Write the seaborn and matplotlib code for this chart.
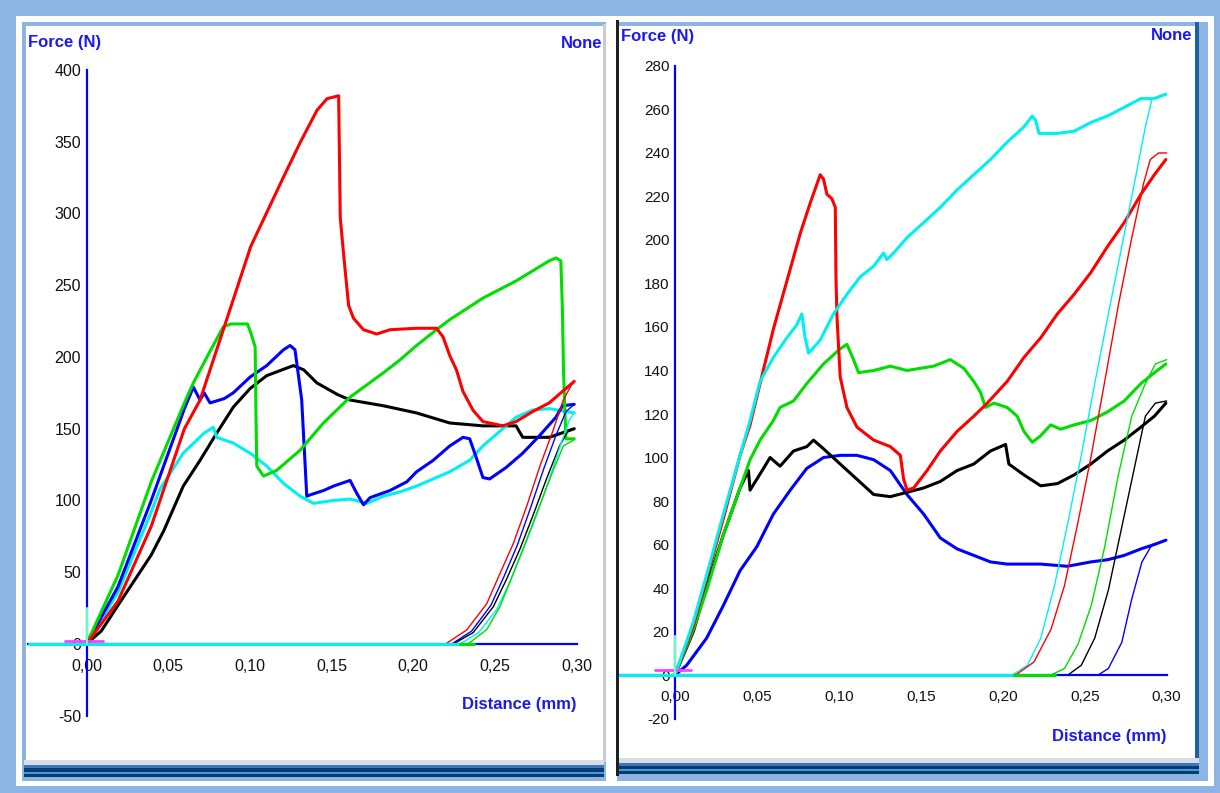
import matplotlib
matplotlib.use("Agg")
import matplotlib.pyplot as plt
import seaborn as sns
from matplotlib.patches import Rectangle

sns.set_style("white")
plt.rcParams["font.family"] = ["Liberation Sans", "DejaVu Sans"]

# ---------------- data: left panel ----------------
left_xticks = [0.00, 0.05, 0.10, 0.15, 0.20, 0.25, 0.30]
left_xticklabels = ["0,00", "0,05", "0,10", "0,15", "0,20", "0,25", "0,30"]
left_yticks = [-50, 0, 50, 100, 150, 200, 250, 300, 350, 400]
left_yticklabels = ["-50", "0", "50", "100", "150", "200", "250", "300", "350", "400"]

L_red_x = [0.0, 0.0193, 0.0396, 0.0599, 0.0695, 0.0843, 0.0898, 0.1005, 0.1208, 0.131, 0.1411, 0.1472,
           0.1543, 0.1553, 0.1573, 0.1604, 0.1634, 0.1695, 0.1776, 0.1858, 0.202, 0.2142, 0.2182,
           0.2223, 0.2264, 0.2304, 0.2365, 0.2426, 0.2548, 0.2629, 0.2731, 0.2832, 0.2913, 0.2985]
L_red_y = [0, 30, 82, 150, 170, 221, 240, 277, 326, 350, 372, 380,
           382, 297, 272, 236, 227, 219, 216, 219, 220, 220, 214,
           201, 191, 176, 163, 155, 152, 155, 162, 168, 176, 183]
L_red_ux = [0.2204, 0.2327, 0.2449, 0.253, 0.2612, 0.2694, 0.2775, 0.2856, 0.2918, 0.298]
L_red_uy = [0.5, 9.8, 28, 49, 70, 96, 124, 149, 170, 183]

L_green_x = [0.0, 0.0193, 0.0396, 0.0599, 0.0654, 0.0756, 0.0837, 0.0883, 0.0985, 0.1005, 0.1032,
             0.1037, 0.1042, 0.1083, 0.1164, 0.1307, 0.145, 0.1613, 0.1817, 0.1919, 0.202, 0.2142,
             0.2223, 0.2426, 0.2629, 0.2832, 0.2873, 0.2903, 0.2913, 0.2919, 0.2934, 0.2985]
L_green_y = [0, 48, 113, 168, 182, 204, 221, 223, 223, 217, 207,
             160, 124, 117, 121, 135, 154, 172, 189, 198, 208, 219,
             226, 241, 253, 267, 269, 267, 231, 191, 143, 143]
L_green_ux = [0.2335, 0.2449, 0.253, 0.2612, 0.2694, 0.2775, 0.2856, 0.2918, 0.298]
L_green_uy = [0, 10, 26, 49, 73, 97, 121, 138, 142]

L_blue_x = [0.0, 0.0193, 0.0396, 0.0599, 0.0654, 0.0695, 0.072, 0.0756, 0.0843, 0.0898, 0.1001,
            0.1103, 0.1205, 0.1246, 0.1276, 0.1317, 0.1348, 0.1371, 0.1452, 0.1511, 0.1613, 0.1654,
            0.1695, 0.1736, 0.1858, 0.196, 0.202, 0.2122, 0.2223, 0.2304, 0.2345, 0.2385, 0.2426,
            0.2467, 0.2568, 0.267, 0.2771, 0.2873, 0.2913, 0.2985]
L_blue_y = [0, 40, 100, 164, 179, 170, 175, 168, 171, 175, 186,
            194, 205, 208, 205, 170, 103, 104, 107, 110, 114, 105,
            97, 102, 107, 113, 120, 128, 138, 144, 143, 130, 116,
            115, 123, 133, 145, 158, 166, 167]
L_blue_ux = [0.2235, 0.2357, 0.2475, 0.2555, 0.2637, 0.2718, 0.2798, 0.2875, 0.2935, 0.2985]
L_blue_uy = [0, 9, 27, 47, 69, 95, 122, 146, 162, 167]

L_black_x = [0.0, 0.009, 0.0193, 0.0396, 0.0473, 0.0592, 0.0695, 0.0797, 0.0898, 0.1001, 0.1103,
             0.1266, 0.133, 0.1409, 0.1533, 0.1613, 0.1817, 0.202, 0.2223, 0.2426, 0.2629, 0.2649,
             0.267, 0.2832, 0.2985]
L_black_y = [0, 9, 27, 62, 79, 110, 128, 147, 165, 178, 187,
             194, 191, 182, 174, 170, 166, 161, 154, 152, 152, 148,
             144, 144, 150]
L_black_ux = [0.2245, 0.2367, 0.249, 0.257, 0.2652, 0.2734, 0.2815, 0.2895, 0.2945, 0.2985]
L_black_uy = [0, 8, 26, 45, 66, 90, 115, 138, 148, 150]

L_cyan_x = [0.0, 0.0193, 0.0396, 0.045, 0.0592, 0.072, 0.0776, 0.0797, 0.0898, 0.1001, 0.1103,
            0.1205, 0.1307, 0.1389, 0.1511, 0.1613, 0.1715, 0.1817, 0.1919, 0.202, 0.2223, 0.2345,
            0.2426, 0.2548, 0.2629, 0.2731, 0.2832, 0.2985]
L_cyan_y = [0, 36, 92, 108, 133, 147, 151, 144, 140, 133, 124,
            112, 103, 98, 100, 101, 98, 103, 106, 110, 120, 128,
            138, 150, 158, 163, 164, 161]
L_cyan_ux = [0.2285, 0.2400, 0.251, 0.259, 0.267, 0.2755, 0.2835, 0.2905, 0.2955, 0.2985]
L_cyan_uy = [0, 8, 24, 43, 65, 90, 116, 140, 156, 161]

L_base_cyan_x = [-0.0355, 0.2285]
L_base_green_x = [0.2285, 0.2370]

# ---------------- data: right panel ----------------
right_xticks = [0.00, 0.05, 0.10, 0.15, 0.20, 0.25, 0.30]
right_xticklabels = ["0,00", "0,05", "0,10", "0,15", "0,20", "0,25", "0,30"]
right_yticks = [-20, 0, 20, 40, 60, 80, 100, 120, 140, 160, 180, 200, 220, 240, 260, 280]
right_yticklabels = ["-20", "0", "20", "40", "60", "80", "100", "120", "140", "160", "180", "200",
                     "220", "240", "260", "280"]

R_cyan_x = [0.0, 0.0112, 0.0193, 0.0295, 0.0397, 0.0458, 0.0519, 0.06, 0.0682, 0.0743, 0.0774, 0.0794,
            0.0815, 0.0886, 0.0967, 0.1049, 0.113, 0.1212, 0.1273, 0.1293, 0.1334, 0.1415, 0.1517,
            0.1619, 0.1721, 0.1823, 0.1925, 0.2027, 0.2129, 0.218, 0.22, 0.2221, 0.2333, 0.2435,
            0.2537, 0.2639, 0.2741, 0.2843, 0.2925, 0.2995]
R_cyan_y = [0, 24.5, 46, 74, 101, 117, 135, 146, 155, 161, 166, 155,
            148, 154, 166, 175, 183, 188, 194, 191, 194, 201, 208,
            215, 223, 230, 237, 245, 252, 257, 255, 249, 249, 250,
            254, 257, 261, 265, 265, 267]
R_cyan_ux = [0.2058, 0.2150, 0.2232, 0.2315, 0.2397, 0.2479, 0.2561, 0.2644, 0.2726, 0.2808, 0.2870,
             0.2911, 0.2991]
R_cyan_uy = [0, 4.5, 17, 41, 70, 101, 134, 166, 197, 228, 252, 265, 267]

R_red_x = [0.0, 0.0112, 0.0193, 0.0295, 0.0397, 0.0458, 0.0519, 0.06, 0.0682, 0.0764, 0.0825, 0.0886,
           0.0906, 0.0927, 0.0957, 0.0978, 0.0982, 0.0988, 0.1008, 0.1049, 0.111, 0.1212, 0.1314,
           0.1375, 0.1395, 0.1416, 0.1456, 0.1538, 0.1619, 0.1721, 0.1823, 0.1905, 0.2027, 0.2129,
           0.2231, 0.2333, 0.2435, 0.2537, 0.2639, 0.2741, 0.2843, 0.2925, 0.2995]
R_red_y = [0, 22.7, 44.5, 72, 101, 115, 134, 159, 181, 203, 217, 230,
           228, 221, 219, 215, 183, 165, 137, 123, 114, 108, 105,
           101, 90, 85, 86, 94, 103, 112, 119, 125, 135, 146,
           155, 166, 175, 185, 197, 208, 221, 230, 237]
R_red_ux = [0.2078, 0.2190, 0.2294, 0.2376, 0.2458, 0.2540, 0.2622, 0.2705, 0.2787, 0.2859, 0.2900,
            0.2951, 0.3000]
R_red_uy = [0, 6, 21, 41, 70, 101, 135, 170, 201, 226, 237, 240, 240]

R_green_x = [0.0, 0.0112, 0.0193, 0.0295, 0.0397, 0.0458, 0.0519, 0.06, 0.0641, 0.0723, 0.0804,
             0.0906, 0.1008, 0.1049, 0.1089, 0.112, 0.1212, 0.1314, 0.1415, 0.1578, 0.1680, 0.1762,
             0.1823, 0.1864, 0.1894, 0.1945, 0.2027, 0.2088, 0.2129, 0.218, 0.2231, 0.2292, 0.2353,
             0.2435, 0.2537, 0.2639, 0.2741, 0.2843, 0.2925, 0.2995]
R_green_y = [0, 21, 39, 64.5, 86, 99, 108, 117, 123, 126, 134,
             143, 150, 152, 145, 139, 140, 142, 140, 142, 145, 141,
             135, 130, 123, 125, 123, 119, 112, 107, 110, 115, 113,
             115, 117, 121, 126, 134, 139, 143]
R_green_ux = [0.2070, 0.2294, 0.2376, 0.2458, 0.2540, 0.2622, 0.2705, 0.2787, 0.2870, 0.2931, 0.3000]
R_green_uy = [0, 0, 3, 14, 32, 59, 92, 119, 134, 143, 145]

R_black_x = [0.0, 0.0112, 0.0193, 0.0295, 0.0397, 0.0448, 0.0458, 0.0499, 0.054, 0.0580, 0.0641,
             0.0723, 0.0804, 0.0845, 0.0906, 0.1008, 0.111, 0.1212, 0.1314, 0.1415, 0.1517, 0.1619,
             0.1721, 0.1823, 0.1925, 0.2017, 0.2037, 0.2129, 0.2231, 0.2333, 0.2435, 0.2537, 0.2639,
             0.2741, 0.2843, 0.2925, 0.2995]
R_black_y = [0, 20, 41, 64.5, 86, 94, 85, 90, 95, 100, 96,
             103, 105, 108, 104, 97, 90, 83, 82, 84, 86, 89,
             94, 97, 103, 106, 97, 92, 87, 88, 92, 97, 103,
             108, 114, 119, 125]
R_black_ux = [0.2397, 0.2479, 0.2561, 0.2644, 0.2726, 0.2808, 0.2870, 0.2931, 0.3000]
R_black_uy = [0, 4.5, 17, 39, 68, 97, 119, 125, 126]

R_blue_x = [0.0, 0.0071, 0.0193, 0.0295, 0.0397, 0.0499, 0.06, 0.0703, 0.0804, 0.0906, 0.1008,
            0.111, 0.1212, 0.1314, 0.1415, 0.1517, 0.1619, 0.1721, 0.1823, 0.1925, 0.2027, 0.2231,
            0.2394, 0.2537, 0.2639, 0.2741, 0.2843, 0.2925, 0.2995]
R_blue_y = [0, 4.5, 17, 32, 48, 59, 74, 85, 95, 100, 101,
            101, 99, 94, 83, 74, 63, 58, 55, 52, 51, 51,
            50, 52, 53, 55, 58, 60, 62]
R_blue_ux = [0.2582, 0.2644, 0.2726, 0.2787, 0.2849, 0.2911, 0.3000]
R_blue_uy = [0, 3, 15, 35, 52, 60, 62]

R_base_cyan_x = [-0.034, 0.2070]
R_base_green_x = [0.2070, 0.2320]

# ---------------- figure ----------------
W, H = 1220, 793
fig = plt.figure(figsize=(W / 100, H / 100), dpi=100)
fig.patch.set_facecolor("#8DB4E2")


def rect(x0, y0, x1, y1, color):
    fig.patches.append(Rectangle((x0 / W, 1 - y1 / H), (x1 - x0) / W, (y1 - y0) / H,
                                 transform=fig.transFigure, facecolor=color,
                                 edgecolor="none", zorder=-10))


# window frame decoration
rect(16, 16, 1214, 786, "white")
rect(22, 22, 1208, 781, "#8DB4E2")
rect(26, 26, 604, 760, "white")
rect(603, 24, 606, 762, "#C8CCD0")
rect(606, 22, 617, 781, "white")
rect(616, 20, 619, 776, "#202020")
rect(619, 26, 1195, 758, "white")
rect(1195, 22, 1199, 770, "#1E5FA8")
# bottom bars
rect(24, 760, 604, 765, "#D8DCE4")
rect(24, 765, 604, 768, "#3A78B8")
rect(24, 768, 604, 772, "#0B3A70")
rect(24, 772, 604, 774, "#3AA0D8")
rect(24, 774, 604, 777, "#0B3A70")
rect(619, 758, 1199, 763, "#D8DCE4")
rect(619, 763, 1199, 766, "#3A78B8")
rect(619, 766, 1199, 769, "#0B3A70")
rect(619, 769, 1199, 771, "#3AA0D8")
rect(619, 771, 1199, 774, "#0B3A70")

# axes placement (pixel mapping)
axL = fig.add_axes([27.7 / W, 1 - 718.6 / H, 553.9 / W, 651.5 / H])
axR = fig.add_axes([619.3 / W, 1 - 722.9 / H, 552.3 / W, 661.3 / H])

RED, GREEN, BLUE, BLACK, CYAN = "#FF0000", "#00DD00", "#0000FF", "#000000", "#00F0F0"
AXBLUE = "#0000FF"


def draw(ax, x, y, color, lw, z=2):
    sns.lineplot(x=x, y=y, color=color, linewidth=lw, sort=False, estimator=None,
                 ax=ax, legend=False, zorder=z)


def setup(ax, xlim, ylim, ybounds, xt, xtl, yt, ytl, fs):
    ax.set_xlim(*xlim)
    ax.set_ylim(*ylim)
    ax.set_facecolor("none")
    ax.grid(False)
    for s in ["top", "right"]:
        ax.spines[s].set_visible(False)
    ax.spines["left"].set_position(("data", 0))
    ax.spines["bottom"].set_position(("data", 0))
    ax.spines["left"].set_bounds(*ybounds)
    ax.spines["bottom"].set_bounds(xlim[0], 0.30)
    for s in ["left", "bottom"]:
        ax.spines[s].set_color(AXBLUE)
        ax.spines[s].set_linewidth(1.6)
    ax.set_xticks(xt, xtl)
    ax.set_yticks(yt, ytl)
    ax.tick_params(axis="x", direction="out", length=8, width=1.4, color=AXBLUE,
                   labelsize=fs, labelcolor="#111111", pad=3)
    ax.tick_params(axis="y", direction="out", length=3, width=1.2, color=AXBLUE,
                   labelsize=fs, labelcolor="#111111", pad=1)
    ax.set_xlabel("")
    ax.set_ylabel("")


LW, ULW = 2.2, 1.0
# left panel
draw(axL, L_black_x, L_black_y, BLACK, LW)
draw(axL, L_cyan_x, L_cyan_y, CYAN, LW)
draw(axL, L_blue_x, L_blue_y, BLUE, LW)
draw(axL, L_green_x, L_green_y, GREEN, LW)
draw(axL, L_red_x, L_red_y, RED, LW)
draw(axL, L_red_ux, L_red_uy, RED, ULW)
draw(axL, L_blue_ux, L_blue_uy, BLUE, ULW)
draw(axL, L_black_ux, L_black_uy, BLACK, ULW)
draw(axL, L_cyan_ux, L_cyan_uy, CYAN, ULW)
draw(axL, L_green_ux, L_green_uy, GREEN, ULW)
draw(axL, L_base_cyan_x, [0, 0], CYAN, 2.2, 3)
draw(axL, L_base_green_x, [0, 0], GREEN, 2.2, 3)
draw(axL, [-0.013, 0.010], [2.3, 2.3], "#FF40FF", 2.0, 3)
draw(axL, [0.0, 0.0], [0, 25], "#60FFC0", 1.5, 3)
setup(axL, (-0.036, 0.303), (-52, 402), (-50, 400), left_xticks, left_xticklabels,
      left_yticks, left_yticklabels, 11.5)

# right panel
draw(axR, R_blue_x, R_blue_y, BLUE, LW)
draw(axR, R_black_x, R_black_y, BLACK, LW)
draw(axR, R_green_x, R_green_y, GREEN, LW)
draw(axR, R_red_x, R_red_y, RED, LW)
draw(axR, R_cyan_x, R_cyan_y, CYAN, LW)
draw(axR, R_cyan_ux, R_cyan_uy, CYAN, ULW)
draw(axR, R_red_ux, R_red_uy, RED, ULW)
draw(axR, R_green_ux, R_green_uy, GREEN, ULW)
draw(axR, R_black_ux, R_black_uy, BLACK, ULW)
draw(axR, R_blue_ux, R_blue_uy, BLUE, ULW)
draw(axR, R_base_cyan_x, [0, 0], CYAN, 2.2, 3)
draw(axR, R_base_green_x, [0, 0], GREEN, 2.2, 3)
draw(axR, [-0.012, 0.010], [2.5, 2.5], "#FF40FF", 2.0, 3)
draw(axR, [0.0, 0.0], [0, 18], "#60FFC0", 1.5, 3)
setup(axR, (-0.034, 0.303), (-22, 282), (-20, 280), right_xticks, right_xticklabels,
      right_yticks, right_yticklabels, 11)

# panel texts
TXT = dict(color="#1A1AF0", fontsize=12, fontweight="bold")
fig.text(28 / W, 1 - 43 / H, "Force (N)", ha="left", va="center", **TXT)
fig.text(602 / W, 1 - 43 / H, "None", ha="right", va="center", **TXT)
fig.text(621 / W, 1 - 36 / H, "Force (N)", ha="left", va="center", **TXT)
fig.text(1192 / W, 1 - 36 / H, "None", ha="right", va="center", **TXT)
fig.text(576 / W, 1 - 704 / H, "Distance (mm)", ha="right", va="center", **TXT)
fig.text(1166 / W, 1 - 736 / H, "Distance (mm)", ha="right", va="center", **TXT)

fig.savefig("out.png", dpi=100, facecolor=fig.get_facecolor())
